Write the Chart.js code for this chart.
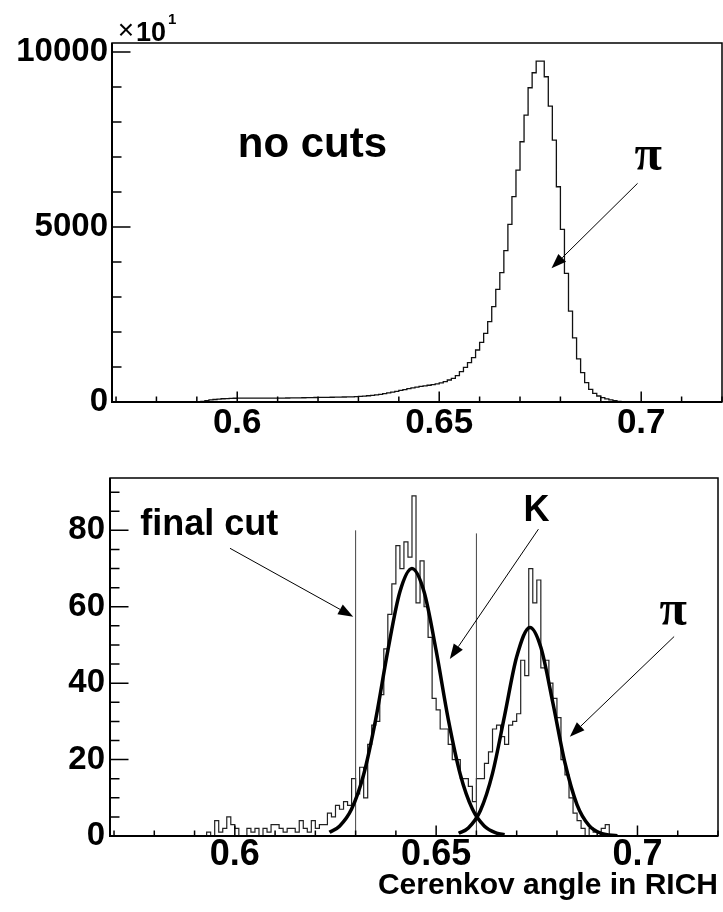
<!DOCTYPE html>
<html>
<head>
<meta charset="utf-8">
<script src="https://cdn.jsdelivr.net/npm/chart.js@4.4.1/dist/chart.umd.min.js"></script>
<style>
  body { margin: 0; background: #fff; }
  #wrap { position: relative; width: 723px; height: 912px; }
  canvas { position: absolute; left: 0; }
  #allCuts { top: 0; }
  #finalCut { top: 440px; }
</style>
</head>
<body>
<div id="wrap">
  <canvas id="allCuts" width="723" height="440"></canvas>
  <canvas id="finalCut" width="723" height="472"></canvas>
</div>
<script>
// histogram binning (left edge of first bin, bin width)
const binStart = 0.590;
const binWidth = 0.001;

// entries per bin without cuts (in units of 10 entries)
const allCounts = [
  5, 20, 40, 58, 72, 85, 93, 99, 104, 107,
  110, 112, 112, 111, 110, 109, 109, 110, 110, 111,
  112, 113, 114, 116, 118, 120, 122, 124, 126, 128,
  130, 132, 134, 136, 138, 140, 143, 146, 149, 152,
  158, 166, 178, 190, 205, 220, 238, 258, 280, 305,
  330, 355, 380, 405, 425, 445, 460, 478, 495, 520,
  548, 585, 629, 676, 752, 867, 990, 1124, 1267, 1486,
  1705, 1962, 2295, 2724, 3219, 3695, 4324, 5076, 5867, 6629,
  7438, 8200, 8981, 9410, 9743, 9743, 9295, 8457, 7486, 6152,
  4933, 3676, 2600, 1830, 1230, 840, 552, 362, 248, 171,
  124, 90, 60, 38, 20, 8, 3
];

// entries per bin after the final selection
const cutCounts = [
  0, 0, 0, 1, 0, 4, 1, 2, 5, 3,
  2, 0, 0, 2, 1, 2, 0, 2, 1, 3,
  3, 2, 1, 2, 2, 1, 4, 2, 1, 4,
  2, 3, 3, 6, 5, 8, 7, 9, 8, 15,
  11, 18, 10, 24, 29, 30, 37, 49, 58, 66,
  76, 70, 77, 73, 89, 61, 72, 60, 52, 36,
  33, 28, 28, 24, 20, 20, 15, 15, 13, 9,
  15, 15, 19, 22, 28, 29, 26, 24, 29, 30,
  32, 46, 42, 70, 61, 67, 44, 46, 40, 36,
  31, 20, 16, 10, 6, 4, 2, 0, 2, 1,
  1, 2, 3, 0
];

// gaussian fits, sampled along the curves
const kFitX = [0.6235, 0.626, 0.629, 0.632, 0.635, 0.638, 0.641, 0.644, 0.647, 0.650, 0.653, 0.656, 0.659, 0.662, 0.665, 0.667];
const kFitY = [0.96, 2.57, 7.05, 16.1, 30.6, 48.5, 63.9, 70.0, 63.9, 48.5, 30.6, 16.1, 7.05, 2.57, 0.78, 0.32];
const piFitX = [0.6556, 0.658, 0.661, 0.664, 0.667, 0.670, 0.6733, 0.676, 0.679, 0.682, 0.685, 0.688, 0.691, 0.695];
const piFitY = [0.70, 2.11, 6.68, 16.4, 31.5, 46.9, 54.6, 49.4, 34.8, 19.1, 8.16, 2.71, 0.70, 0.08];

// final cut window
const cutPositions = [0.63, 0.66];
const cutHeights = [80, 79.2];

// axis ticks
const xMajor = [0.6, 0.65, 0.7];
const topYMajor = [0, 5000, 10000];
const bottomYMajor = [0, 20, 40, 60, 80];

const xMinor = [];
for (let k = 57; k <= 72; k++) xMinor.push(k / 100);
const topYMinor = [];
for (let k = 0; k <= 10; k++) topYMinor.push(k * 1000);
const bottomYMinor = [];
for (let k = 0; k <= 18; k++) bottomYMinor.push(k * 5);

const SANS = '"Liberation Sans", Arial, Helvetica, sans-serif';
const SERIF = '"Liberation Serif", "Times New Roman", serif';
Chart.defaults.font.family = SANS;
Chart.defaults.color = '#000';

function histPoints(counts) {
  const edge = i => +(binStart + i * binWidth).toFixed(3);
  const pts = [{ x: edge(0), y: 0 }];
  counts.forEach((c, i) => pts.push({ x: edge(i), y: c }));
  pts.push({ x: edge(counts.length), y: 0 });
  return pts;
}

function curvePoints(xs, ys) {
  return xs.map((x, i) => ({ x: x, y: ys[i] }));
}

// frame, inward ticks and the axis exponent
const rootFrame = {
  id: 'rootFrame',
  afterDraw(chart, args, o) {
    const { ctx, chartArea: a, scales: { x, y } } = chart;
    ctx.save();
    ctx.strokeStyle = '#000';
    ctx.lineWidth = 1.5;
    ctx.strokeRect(a.left, a.top, a.right - a.left, a.bottom - a.top);
    ctx.lineWidth = 2;
    ctx.beginPath();
    ctx.moveTo(a.left, a.top);
    ctx.lineTo(a.left, a.bottom);
    ctx.lineTo(a.right, a.bottom);
    ctx.stroke();

    ctx.lineWidth = 1.5;
    ctx.beginPath();
    o.xMinor.forEach(v => {
      const px = x.getPixelForValue(v);
      const major = o.xMajor.some(m => Math.abs(m - v) < 1e-9);
      ctx.moveTo(px, a.bottom);
      ctx.lineTo(px, a.bottom - (major ? 10.5 : 5.5));
    });
    o.yMinor.forEach(v => {
      const py = y.getPixelForValue(v);
      const major = o.yMajor.includes(v);
      ctx.moveTo(a.left, py);
      ctx.lineTo(a.left + (major ? 18.5 : 9.5), py);
    });
    ctx.stroke();

    if (o.exponent) {
      ctx.fillStyle = '#000';
      ctx.textBaseline = 'alphabetic';
      ctx.font = 'bold 27px ' + SANS;
      ctx.textAlign = 'right';
      ctx.fillText('10', a.left + 54, a.top - 2);
      ctx.font = '28px ' + SANS;
      ctx.fillText('\u00d7', a.left + 22, a.top - 4);
      ctx.font = 'bold 15px ' + SANS;
      ctx.textAlign = 'left';
      ctx.fillText(o.exponent, a.left + 56, a.top - 19.5);
    }
    ctx.restore();
  }
};

// text labels and arrows placed in data coordinates
const notes = {
  id: 'notes',
  afterDraw(chart, args, o) {
    const { ctx, scales: { x, y } } = chart;
    ctx.save();
    ctx.fillStyle = '#000';
    ctx.strokeStyle = '#000';
    (o.texts || []).forEach(t => {
      ctx.font = t.font;
      ctx.textAlign = t.align;
      ctx.textBaseline = 'alphabetic';
      ctx.fillText(t.text, x.getPixelForValue(t.x), y.getPixelForValue(t.y));
    });
    (o.arrows || []).forEach(ar => {
      const x1 = x.getPixelForValue(ar.from[0]), y1 = y.getPixelForValue(ar.from[1]);
      const x2 = x.getPixelForValue(ar.to[0]), y2 = y.getPixelForValue(ar.to[1]);
      const ang = Math.atan2(y2 - y1, x2 - x1);
      const len = 15, half = 5.5;
      const bx = x2 - len * Math.cos(ang), by = y2 - len * Math.sin(ang);
      ctx.lineWidth = 1;
      ctx.beginPath();
      ctx.moveTo(x1, y1);
      ctx.lineTo(bx, by);
      ctx.stroke();
      ctx.beginPath();
      ctx.moveTo(x2, y2);
      ctx.lineTo(bx + half * Math.sin(ang), by - half * Math.cos(ang));
      ctx.lineTo(bx - half * Math.sin(ang), by + half * Math.cos(ang));
      ctx.closePath();
      ctx.fill();
    });
    ctx.restore();
  }
};

function xScale(height, pad, size) {
  return {
    type: 'linear',
    min: 0.569,
    max: 0.72,
    grid: { display: false, drawTicks: false },
    border: { display: false },
    afterBuildTicks: s => { s.ticks = xMajor.map(v => ({ value: v })); },
    afterFit: s => { s.height = height; },
    ticks: {
      padding: pad,
      autoSkip: false,
      maxRotation: 0,
      font: { size: size, weight: 'bold', lineHeight: 1 },
      callback: v => String(v)
    }
  };
}

function yScale(max, majors, width, pad) {
  return {
    type: 'linear',
    min: 0,
    max: max,
    grid: { display: false, drawTicks: false },
    border: { display: false },
    afterBuildTicks: s => { s.ticks = majors.map(v => ({ value: v })); },
    afterFit: s => { s.width = width; },
    ticks: {
      padding: pad,
      font: { size: 33, weight: 'bold' },
      callback: v => String(v)
    }
  };
}

new Chart(document.getElementById('allCuts'), {
  type: 'line',
  data: {
    datasets: [{
      data: histPoints(allCounts),
      stepped: true,
      borderColor: '#111',
      borderWidth: 1.3,
      pointRadius: 0,
      fill: false
    }]
  },
  options: {
    responsive: false,
    animation: false,
    devicePixelRatio: 1,
    layout: { padding: { top: 43, right: 1, left: 0, bottom: 0 } },
    plugins: {
      legend: { display: false },
      tooltip: { enabled: false },
      rootFrame: { xMajor: xMajor, xMinor: xMinor, yMajor: topYMajor, yMinor: topYMinor, exponent: '1' },
      notes: {
        texts: [
          { text: 'no cuts', x: 0.6371, y: 7009, align: 'right', font: 'bold 42px ' + SANS },
          { text: '\u03c0', x: 0.7017, y: 6629, align: 'center', font: 'bold 50px ' + SERIF }
        ],
        arrows: [{ from: [0.6991, 6249], to: [0.6778, 3820] }]
      }
    },
    scales: {
      x: xScale(38, 4, 35),
      y: yScale(10260, topYMajor, 112, 4)
    }
  },
  plugins: [rootFrame, notes]
});

const bottomX = xScale(76, 1, 36);
bottomX.title = {
  display: true,
  text: 'Cerenkov angle in RICH',
  align: 'end',
  font: { size: 30, weight: 'bold', lineHeight: 1 },
  padding: { top: 0, bottom: 11 }
};

new Chart(document.getElementById('finalCut'), {
  type: 'line',
  data: {
    datasets: [
      {
        data: curvePoints(kFitX, kFitY),
        cubicInterpolationMode: 'monotone',
        borderColor: '#000',
        borderWidth: 3.5,
        pointRadius: 0,
        fill: false
      },
      {
        data: curvePoints(piFitX, piFitY),
        cubicInterpolationMode: 'monotone',
        borderColor: '#000',
        borderWidth: 3.5,
        pointRadius: 0,
        fill: false
      },
      ...cutPositions.map((c, i) => ({
        data: [{ x: c, y: 0 }, { x: c, y: cutHeights[i] }],
        borderColor: '#444',
        borderWidth: 1,
        pointRadius: 0,
        fill: false
      })),
      {
        data: histPoints(cutCounts),
        stepped: true,
        borderColor: '#222',
        borderWidth: 1.2,
        pointRadius: 0,
        fill: false
      }
    ]
  },
  options: {
    responsive: false,
    animation: false,
    devicePixelRatio: 1,
    layout: { padding: { top: 38, right: 5, left: 0, bottom: 0 } },
    plugins: {
      legend: { display: false },
      tooltip: { enabled: false },
      rootFrame: { xMajor: xMajor, xMinor: xMinor, yMajor: bottomYMajor, yMinor: bottomYMinor },
      notes: {
        texts: [
          { text: 'final cut', x: 0.5765, y: 78.8, align: 'left', font: 'bold 36px ' + SANS },
          { text: 'K', x: 0.6749, y: 82.4, align: 'center', font: 'bold 36px ' + SANS },
          { text: '\u03c0', x: 0.7089, y: 55.2, align: 'center', font: 'bold 50px ' + SERIF }
        ],
        arrows: [
          { from: [0.5988, 75.3], to: [0.6294, 57.4] },
          { from: [0.6754, 80.3], to: [0.6534, 46.3] },
          { from: [0.7091, 52.2], to: [0.6832, 26.0] }
        ]
      }
    },
    scales: {
      x: bottomX,
      y: yScale(93.7, bottomYMajor, 110, 5)
    }
  },
  plugins: [rootFrame, notes]
});
</script>
</body>
</html>
